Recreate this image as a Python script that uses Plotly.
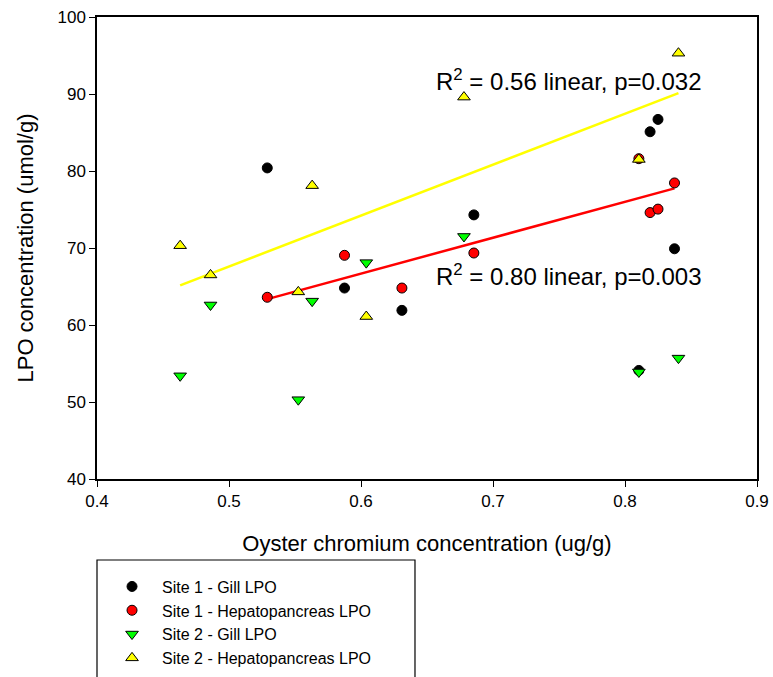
import numpy as np
import plotly.graph_objects as go

# ---- data ----
site1_x = [0.529, 0.5875, 0.631, 0.6855, 0.8105, 0.819, 0.825, 0.8375]
site1_gill = [80.4, 64.8, 61.9, 74.3, 54.1, 85.1, 86.7, 69.9]
site1_hep = [63.6, 69.05, 64.8, 69.35, 81.6, 74.6, 75.05, 78.45]

site2_x = [0.463, 0.486, 0.5525, 0.563, 0.604, 0.678, 0.8105, 0.8405]
site2_gill = [53.4, 62.6, 50.3, 63.1, 68.1, 71.5, 53.9, 55.7]
site2_hep = [70.3, 66.5, 64.3, 78.1, 61.1, 89.6, 81.5, 95.3]

x_ticks = [0.4, 0.5, 0.6, 0.7, 0.8, 0.9]
y_ticks = [40, 50, 60, 70, 80, 90, 100]

ann_hep2 = "R<sup>2</sup> = 0.56 linear, p=0.032"
ann_hep1 = "R<sup>2</sup> = 0.80 linear, p=0.003"

FONT = "Liberation Sans, Arial, sans-serif"


def fit_line(xs, ys):
    xs = np.asarray(xs)
    ys = np.asarray(ys)
    m, b = np.polyfit(xs, ys, 1)
    xx = np.array([xs.min(), xs.max()])
    return xx, m * xx + b


fig = go.Figure()

# regression lines
fx, fy = fit_line(site2_x, site2_hep)
fig.add_trace(go.Scatter(x=fx, y=fy, mode="lines", line=dict(color="#FFFF00", width=2.5),
                         showlegend=False, hoverinfo="skip"))
fx, fy = fit_line(site1_x, site1_hep)
fig.add_trace(go.Scatter(x=fx, y=fy, mode="lines", line=dict(color="#FF0000", width=2.5),
                         showlegend=False, hoverinfo="skip"))

outline = dict(color="black", width=1)
fig.add_trace(go.Scatter(x=site1_x, y=site1_gill, mode="markers", name="Site 1 - Gill LPO",
                         marker=dict(symbol="circle", size=10, color="black", line=outline)))
fig.add_trace(go.Scatter(x=site1_x, y=site1_hep, mode="markers", name="Site 1 - Hepatopancreas LPO",
                         marker=dict(symbol="circle", size=10, color="#FF0000", line=outline)))
fig.add_trace(go.Scatter(x=site2_x, y=site2_gill, mode="markers", name="Site 2 - Gill LPO",
                         marker=dict(symbol="triangle-down", size=11, color="#00FF00", line=outline)))
fig.add_trace(go.Scatter(x=site2_x, y=site2_hep, mode="markers", name="Site 2 - Hepatopancreas LPO",
                         marker=dict(symbol="triangle-up", size=11, color="#FFFF00", line=outline)))

fig.add_annotation(x=0.6553, y=91.8, xref="x", yref="y", text=ann_hep2, showarrow=False,
                   xanchor="left", yanchor="middle", font=dict(family=FONT, size=24, color="black"))
fig.add_annotation(x=0.6553, y=66.55, xref="x", yref="y", text=ann_hep1, showarrow=False,
                   xanchor="left", yanchor="middle", font=dict(family=FONT, size=24, color="black"))

# legend frame
fig.add_shape(type="rect", xref="paper", yref="paper", x0=0.0, x1=0.4818, y0=-0.5, y1=-0.1753,
              line=dict(color="black", width=1.2), fillcolor="rgba(0,0,0,0)")

axis_common = dict(showline=True, linecolor="black", linewidth=1.5, mirror=True,
                   ticks="outside", ticklen=6, tickcolor="black", tickwidth=1.2,
                   showgrid=False, zeroline=False,
                   tickfont=dict(family=FONT, size=17, color="black"))

fig.update_layout(
    width=773, height=677,
    margin=dict(l=97, r=16, t=17, b=198, autoexpand=False),
    paper_bgcolor="white", plot_bgcolor="white",
    font=dict(family=FONT, color="black"),
    xaxis=dict(range=[0.4, 0.9], tickvals=x_ticks, ticktext=[f"{v:g}" for v in x_ticks],
               title=dict(text="Oyster chromium concentration (ug/g)", font=dict(family=FONT, size=22),
                          standoff=25),
               **axis_common),
    yaxis=dict(range=[40, 100], tickvals=y_ticks, ticktext=[str(v) for v in y_ticks],
               title=dict(text="LPO concentration (umol/g)", font=dict(family=FONT, size=22),
                          standoff=18),
               **axis_common),
    legend=dict(x=0.0076, y=-0.196, xanchor="left", yanchor="top",
                font=dict(family=FONT, size=16, color="black"),
                bgcolor="rgba(0,0,0,0)", borderwidth=0, itemwidth=50,
                tracegroupgap=0),
)

fig.write_html("out.html")
